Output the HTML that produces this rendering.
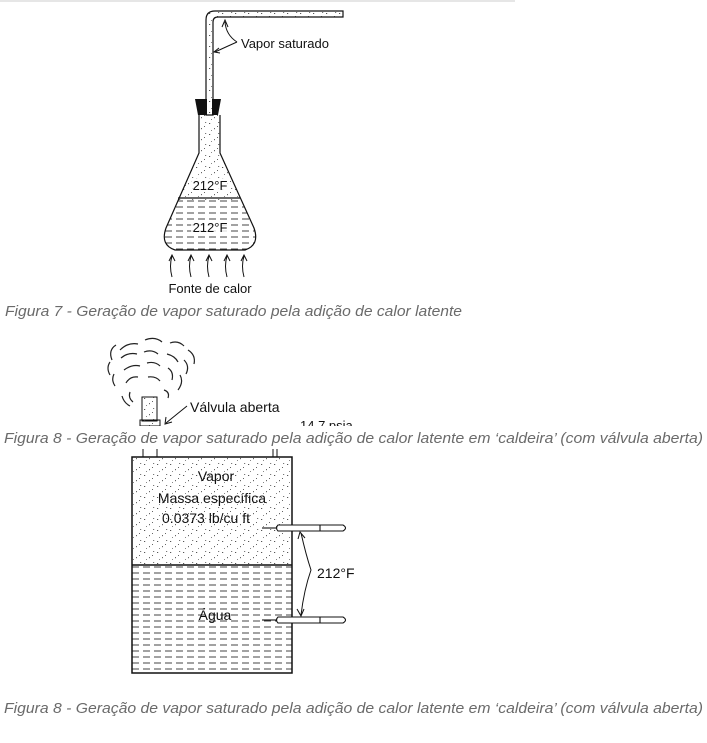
<!DOCTYPE html>
<html><head><meta charset="utf-8"><style>
html,body{margin:0;padding:0;background:#fff;}
svg{display:block;}
.t{font-family:"Liberation Sans",sans-serif;font-size:13px;fill:#111;}
.c{font-family:"Liberation Sans",sans-serif;font-style:italic;font-size:15px;fill:#6a6a6a;}
</style></head><body>
<svg width="707" height="743" viewBox="0 0 707 743" xmlns="http://www.w3.org/2000/svg">
<defs>
<pattern id="dots" width="13" height="11" patternUnits="userSpaceOnUse">
<rect x="1" y="2" width="1.2" height="1" fill="#555"/><rect x="6" y="7" width="1" height="1.2" fill="#666"/><rect x="10" y="1" width="1.2" height="1" fill="#777"/><rect x="3" y="9" width="1" height="1" fill="#888"/><rect x="9" y="5" width="1" height="1" fill="#666"/>
</pattern>
<pattern id="dash" width="11" height="6" patternUnits="userSpaceOnUse">
<rect x="0" y="2.5" width="7" height="1" fill="#444"/>
</pattern>
<clipPath id="flask"><path d="M199 115 L199 153 L166 228 Q160 245 175 250 L245 250 Q260 245 254 228 L220 153 L220 115 Z"/></clipPath>
</defs>
<rect x="0" y="0" width="515" height="2" fill="#e6e6e6"/>
<path d="M206 115 L206 20 Q206 11 215 11 L343 11 L343 17 L218 17 Q213 17 213 22 L213 115 Z" fill="url(#dots)" stroke="#111" stroke-width="1.2"/>
<path d="M195 99 L207 99 L207 115 L198 115 Z" fill="#111"/><path d="M212 99 L221 99 L218 115 L212 115 Z" fill="#111"/>
<g clip-path="url(#flask)">
<rect x="150" y="110" width="120" height="90" fill="url(#dots)"/>
<rect x="150" y="198" width="120" height="55" fill="url(#dash)"/>
</g>
<path d="M199 115 L199 153 L166 228 Q160 245 175 250 L245 250 Q260 245 254 228 L220 153 L220 115" fill="none" stroke="#111" stroke-width="1.2"/>
<line x1="178" y1="198" x2="240" y2="198" stroke="#111" stroke-width="1.2"/>
<rect x="191" y="178" width="38" height="13" fill="#fff" opacity="0.8"/>
<rect x="191" y="220" width="38" height="13" fill="#fff" opacity="0.8"/>
<text class="t" x="210" y="190" text-anchor="middle">212°F</text>
<text class="t" x="210" y="232" text-anchor="middle">212°F</text>
<path d="M237 42 Q226 35 225 22" fill="none" stroke="#111"/><path d="M222 27 L225 20 L228 27" fill="none" stroke="#111"/>
<path d="M237 42 Q228 46 215 52" fill="none" stroke="#111"/><path d="M219 48 L214 52 L220 53" fill="none" stroke="#111"/>
<text class="t" x="241" y="48">Vapor saturado</text>
<g fill="none" stroke="#111">
<path d="M172 277 Q169 266 172 256 M169 261 L172 255 L175 261"/>
<path d="M191 277 Q188 266 191 256 M188 261 L191 255 L194 261"/>
<path d="M209 277 Q206 266 209 256 M206 261 L209 255 L212 261"/>
<path d="M227 277 Q224 266 227 256 M224 261 L227 255 L230 261"/>
<path d="M244 277 Q241 266 244 256 M241 261 L244 255 L247 261"/>
</g>
<text class="t" x="210" y="293" text-anchor="middle">Fonte de calor</text>
<text class="c" x="5" y="316" textLength="457" lengthAdjust="spacingAndGlyphs">Figura 7 - Geração de vapor saturado pela adição de calor latente</text>
<g fill="none" stroke="#222" stroke-width="1.2">
<path d="M112 360 Q108 350 116 345"/><path d="M120 350 Q128 342 138 344"/><path d="M145 340 Q155 336 162 342"/><path d="M170 343 Q178 340 184 346"/><path d="M188 350 Q196 355 194 364"/>
<path d="M110 375 Q106 368 110 362"/><path d="M121 358 Q128 352 137 354"/><path d="M144 352 Q152 349 158 354"/><path d="M167 354 Q175 356 178 362"/><path d="M184 360 Q190 366 186 374"/>
<path d="M115 386 Q111 380 114 374"/><path d="M124 370 Q132 364 140 366"/><path d="M147 363 Q155 361 160 366"/><path d="M168 368 Q174 372 172 380"/><path d="M180 375 Q184 382 178 390"/>
<path d="M126 383 Q130 376 138 377"/><path d="M148 377 Q156 376 160 381"/><path d="M164 390 Q170 392 168 398"/><path d="M130 392 Q128 398 133 402"/><path d="M122 396 Q124 403 130 406"/>
</g>
<rect x="142" y="397" width="15" height="24" fill="url(#dots)" stroke="#111"/>
<rect x="140" y="420" width="20" height="6" fill="url(#dots)" stroke="#111"/>
<path d="M187 406 L166 423" stroke="#111" fill="none"/><path d="M166 417 L165 424 L172 422" fill="none" stroke="#111"/>
<text class="t" x="190" y="412" style="font-size:14px">Válvula aberta</text>
<text class="t" x="300" y="430">14.7 psia</text>
<rect x="280" y="426" width="100" height="10" fill="#fff"/>
<rect x="130" y="426" width="40" height="10" fill="#fff"/>
<text class="c" x="4" y="443" textLength="699" lengthAdjust="spacingAndGlyphs">Figura 8 - Geração de vapor saturado pela adição de calor latente em ‘caldeira’ (com válvula aberta)</text>
<rect x="132" y="457" width="160" height="108" fill="url(#dots)"/>
<rect x="132" y="565" width="160" height="108" fill="url(#dash)"/>
<path d="M143 449 L143 457 M157 449 L157 457 M273 449 L273 457 M277 449 L277 457" stroke="#111"/>
<rect x="132" y="457" width="160" height="216" fill="none" stroke="#111" stroke-width="1.5"/>
<line x1="132" y1="565" x2="292" y2="565" stroke="#111" stroke-width="1.5"/>
<text class="t" x="216" y="481" text-anchor="middle" style="font-size:14px">Vapor</text>
<text class="t" x="212" y="503" text-anchor="middle" style="font-size:14px">Massa específica</text>
<text class="t" x="206" y="523" text-anchor="middle" style="font-size:14px">0.0373 lb/cu ft</text>
<text class="t" x="215" y="620" text-anchor="middle" style="font-size:14px">Água</text>
<g stroke="#111" fill="#fff" stroke-width="1.1">
<line x1="262" y1="528" x2="278" y2="528"/>
<path d="M278 525 L343 525 Q348 528 343 531 L278 531 Q275 528 278 525 Z"/>
<line x1="320" y1="525" x2="320" y2="531"/>
<line x1="262" y1="620" x2="278" y2="620"/>
<path d="M278 617 L343 617 Q348 620 343 623 L278 623 Q275 620 278 617 Z"/>
<line x1="320" y1="617" x2="320" y2="623"/>
</g>
<path d="M301 533 Q306 555 311 570 Q304 590 301 615" fill="none" stroke="#111"/>
<path d="M298 539 L300 532 L305 538 M297 609 L301 616 L304 609" fill="none" stroke="#111"/>
<text class="t" x="317" y="578" style="font-size:14px">212°F</text>
<text class="c" x="4" y="713" textLength="699" lengthAdjust="spacingAndGlyphs">Figura 8 - Geração de vapor saturado pela adição de calor latente em ‘caldeira’ (com válvula aberta)</text>
</svg>
</body></html>
